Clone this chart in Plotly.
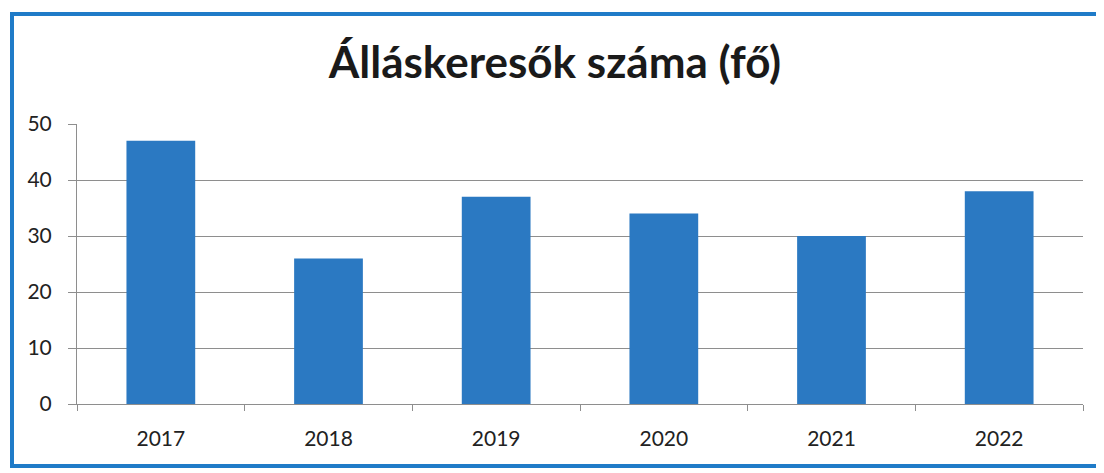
import plotly.graph_objects as go

# data
years = ["2017", "2018", "2019", "2020", "2021", "2022"]
job_seekers = [47, 26, 37, 34, 30, 38]
y_ticks = [0, 10, 20, 30, 40, 50]

title_text = "Álláskeresők száma (fő)"

BAR_BLUE = "#2b79c2"
FRAME_BLUE = "#1f7bc8"
GRID = "#8e8e8e"
FONT = "Lato"

# the page body adds an 8px margin, so the figure is a bit smaller than the window
W, H = 1096, 465
L, R, T, B = 69, 21, 116, 69
plot_w = W - L - R
plot_h = H - T - B

fig = go.Figure()

fig.add_trace(go.Bar(
    x=years,
    y=job_seekers,
    marker=dict(color=BAR_BLUE, line=dict(width=0)),
    hoverinfo="x+y",
))

fig.update_layout(
    width=W,
    height=H,
    margin=dict(l=L, r=R, t=T, b=B),
    paper_bgcolor="white",
    plot_bgcolor="white",
    bargap=0.59,
    showlegend=False,
    font=dict(family=FONT, color="#222222"),
    title=dict(
        text=f"<b>{title_text}</b>",
        font=dict(family=FONT, size=44, color="#1a1a1a"),
        x=(555 - 8) / W,
        xref="container",
        xanchor="center",
        y=1 - 55 / H,
        yref="container",
        yanchor="middle",
    ),
)

fig.update_xaxes(
    type="category",
    showline=True,
    linecolor=GRID,
    linewidth=1,
    ticks="outside",
    tickson="boundaries",
    ticklen=6,
    tickcolor=GRID,
    ticklabelstandoff=16,
    tickfont=dict(family=FONT, size=21, color="#222222"),
    showgrid=False,
)

fig.update_yaxes(
    range=[0, 50],
    tickvals=y_ticks,
    showline=True,
    linecolor=GRID,
    linewidth=1,
    ticks="outside",
    ticklen=8,
    tickcolor=GRID,
    ticklabelstandoff=12,
    tickfont=dict(family=FONT, size=21, color="#222222"),
    showgrid=True,
    gridcolor=GRID,
    gridwidth=1,
    zeroline=False,
)

# blue frame around the chart (from the scanned document)
fig.add_shape(
    type="rect",
    xref="paper", yref="paper",
    x0=(4 - L) / plot_w, x1=(1110 - L) / plot_w,
    y0=(T + plot_h - 458) / plot_h, y1=(T + plot_h - 6) / plot_h,
    line=dict(color=FRAME_BLUE, width=4),
    layer="below",
)

fig.write_html("out.html")
